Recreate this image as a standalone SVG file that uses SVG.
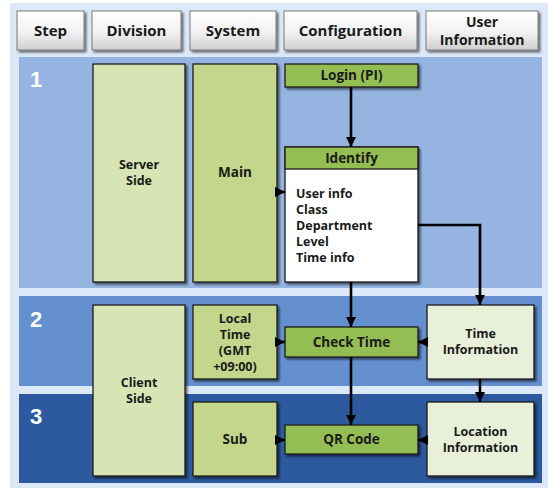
<svg xmlns="http://www.w3.org/2000/svg" width="548" height="488" viewBox="0 0 548 488">
  <defs>
    <linearGradient id="btn" x1="0" y1="0" x2="0" y2="1">
      <stop offset="0" stop-color="#ffffff"/>
      <stop offset="0.55" stop-color="#f1f1f1"/>
      <stop offset="1" stop-color="#cfcfcf"/>
    </linearGradient>
    <filter id="shadow" x="-20%" y="-20%" width="150%" height="150%">
      <feGaussianBlur in="SourceAlpha" stdDeviation="1.2"/>
      <feOffset dx="2" dy="2" result="b"/>
      <feComponentTransfer><feFuncA type="linear" slope="0.55"/></feComponentTransfer>
      <feMerge><feMergeNode/><feMergeNode in="SourceGraphic"/></feMerge>
    </filter>
    <marker id="arrow" viewBox="0 0 10 10" refX="10" refY="5" markerWidth="4" markerHeight="4" orient="auto" markerUnits="strokeWidth">
      <path d="M0,0 L10,5 L0,10 z" fill="#000"/>
    </marker>
    <style>
      text { font-family: "Open Sans", "Noto Sans", "Liberation Sans", sans-serif; font-weight: bold; fill: #1a1a1a; }
      .hdr { font-size: 15px; text-anchor: middle; }
      .hdr2 { font-size: 14px; text-anchor: middle; }
      .lbl { font-size: 13.5px; text-anchor: middle; }
      .ml { font-size: 12.5px; text-anchor: middle; }
      .left { text-anchor: start; }
      .num { font-family: "Liberation Sans", Arial, sans-serif; font-size: 22px; fill: #ffffff; }
      .btn { fill: url(#btn); stroke: #7a7a7a; stroke-width: 1; filter: url(#shadow); }
      .box { stroke: #1a1a1a; stroke-width: 1.3; filter: url(#shadow); }
      .pale { fill: #d7e4b3; }
      .mid { fill: #c3d68b; }
      .green { fill: #94bd52; }
      .white { fill: #ffffff; }
      .info { fill: #e8f0d9; }
      .conn { fill: none; stroke: #000; stroke-width: 2.6; }
      .arr { marker-end: url(#arrow); }
    </style>
  </defs>

  <!-- outer frame -->
  <rect x="10" y="3" width="538" height="485" fill="#dce8f8"/>

  <!-- step bands -->
  <rect x="19" y="57" width="523" height="231" fill="#95b4e1"/>
  <rect x="19" y="296" width="523" height="90" fill="#6590d0"/>
  <rect x="19" y="394" width="523" height="89" fill="#2d5a9e"/>
  <text class="num" x="30" y="87">1</text>
  <text class="num" x="30" y="327">2</text>
  <text class="num" x="30" y="424">3</text>

  <!-- header buttons -->
  <g id="hdr-step"><rect class="btn" x="17" y="11" width="67" height="39"/><text class="hdr" x="50.5" y="36">Step</text></g>
  <g id="hdr-division"><rect class="btn" x="92" y="11" width="89" height="39"/><text class="hdr" x="136.5" y="36">Division</text></g>
  <g id="hdr-system"><rect class="btn" x="190" y="11" width="86" height="39"/><text class="hdr" x="233" y="36">System</text></g>
  <g id="hdr-configuration"><rect class="btn" x="284" y="11" width="133" height="39"/><text class="hdr" x="350.5" y="36">Configuration</text></g>
  <g id="hdr-userinfo"><rect class="btn" x="426" y="11" width="112" height="39"/>
    <text class="hdr2" x="482" y="27">User<tspan x="482" dy="18">Information</tspan></text></g>

  <!-- division / system nodes -->
  <g id="server-side"><rect class="box pale" x="93" y="64" width="92" height="218"/>
    <text class="ml" x="139" y="169">Server<tspan x="139" dy="16">Side</tspan></text></g>
  <g id="main"><rect class="box mid" x="193" y="64" width="84" height="218"/><text class="lbl" x="235" y="177">Main</text></g>
  <g id="client-side"><rect class="box pale" x="93" y="305" width="92" height="171"/>
    <text class="ml" x="139" y="387">Client<tspan x="139" dy="16">Side</tspan></text></g>
  <g id="local-time"><rect class="box mid" x="193" y="305" width="84" height="74"/>
    <text class="ml" x="235" y="323">Local<tspan x="235" dy="16">Time</tspan><tspan x="235" dy="16">(GMT</tspan><tspan x="235" dy="16">+09:00)</tspan></text></g>
  <g id="sub"><rect class="box mid" x="193" y="402" width="84" height="74"/><text class="lbl" x="235" y="444">Sub</text></g>

  <!-- configuration nodes -->
  <g id="login"><rect class="box green" x="285" y="64" width="133" height="23"/><text class="lbl" x="351.5" y="80">Login (PI)</text></g>
  <g id="identify">
    <rect class="box white" x="285" y="147" width="133" height="135"/>
    <rect x="285" y="147" width="133" height="22" fill="#94bd52" stroke="#1a1a1a" stroke-width="1.3"/>
    <text class="lbl" x="351.5" y="163">Identify</text>
    <text class="ml left" x="296" y="198">User info<tspan x="296" dy="16">Class</tspan><tspan x="296" dy="16">Department</tspan><tspan x="296" dy="16">Level</tspan><tspan x="296" dy="16">Time info</tspan></text>
  </g>
  <g id="check-time"><rect class="box green" x="285" y="327" width="133" height="30"/><text class="lbl" x="351.5" y="347">Check Time</text></g>
  <g id="qr-code"><rect class="box green" x="285" y="425" width="133" height="29"/><text class="lbl" x="351.5" y="444">QR Code</text></g>

  <!-- user information nodes -->
  <g id="time-info"><rect class="box info" x="427" y="305" width="107" height="74"/>
    <text class="ml" x="480.5" y="338">Time<tspan x="480.5" dy="16">Information</tspan></text></g>
  <g id="location-info"><rect class="box info" x="427" y="402" width="107" height="74"/>
    <text class="ml" x="480.5" y="436">Location<tspan x="480.5" dy="16">Information</tspan></text></g>

  <!-- connectors -->
  <g id="connectors">
    <path class="conn arr" d="M351,87 V147"/>
    <path class="conn arr" d="M277,192 H285"/>
    <path class="conn arr" d="M351,282 V327"/>
    <path class="conn arr" d="M418,225 H480 V305"/>
    <path class="conn arr" d="M277,342 H285"/>
    <path class="conn arr" d="M427,342 H418"/>
    <path class="conn arr" d="M351,357 V425"/>
    <path class="conn arr" d="M480,379 V402"/>
    <path class="conn arr" d="M277,440 H285"/>
    <path class="conn arr" d="M427,440 H418"/>
  </g>
</svg>
